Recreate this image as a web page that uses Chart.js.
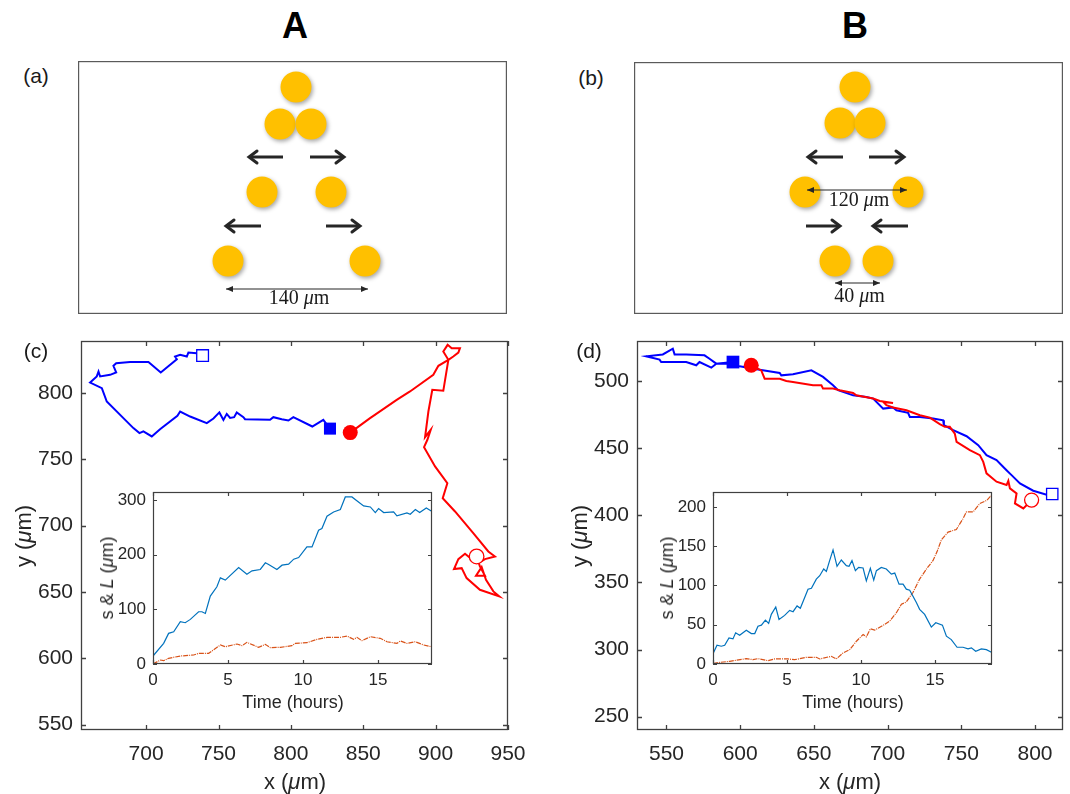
<!DOCTYPE html>
<html>
<head>
<meta charset="utf-8">
<script src="https://cdn.jsdelivr.net/npm/chart.js@4.4.0/dist/chart.umd.min.js"></script>
<style>
  body { margin: 0; background: #fff; }
  #fig { position: relative; width: 1070px; height: 794px; overflow: hidden;
         font-family: "Liberation Sans", Arial, sans-serif; color: #262626; }
  canvas { position: absolute; }
  .t { position: absolute; transform: translate(-50%, -50%); white-space: nowrap; line-height: 1; }
  .big { font-weight: bold; font-size: 36px; color: #000; }
  .tag { font-size: 21px; color: #1a1a1a; }
  .ax { font-size: 22px; }
  .ix { font-size: 18px; }
  .rot { transform: translate(-50%, -50%) rotate(-90deg); }
</style>
</head>
<body>
<div id="fig">
  <canvas id="pa" width="429" height="253" style="left:78px;top:61px"></canvas>
  <canvas id="pb" width="429" height="252" style="left:634px;top:62px"></canvas>
  <canvas id="pc" width="540" height="464" style="left:0px;top:330px"></canvas>
  <canvas id="pd" width="530" height="464" style="left:540px;top:330px"></canvas>
  <canvas id="ic" width="350" height="240" style="left:100px;top:480px"></canvas>
  <canvas id="id" width="350" height="240" style="left:660px;top:480px"></canvas>

  <div class="t big" style="left:295px;top:26px">A</div>
  <div class="t big" style="left:855px;top:26px">B</div>
  <div class="t tag" style="left:36px;top:75px">(a)</div>
  <div class="t tag" style="left:591px;top:77px">(b)</div>
  <div class="t tag" style="left:36px;top:350px">(c)</div>
  <div class="t tag" style="left:589px;top:350px">(d)</div>

  <div class="t ax" style="left:295px;top:782px">x (<i>&mu;</i>m)</div>
  <div class="t ax rot" style="left:24px;top:536px">y (<i>&mu;</i>m)</div>
  <div class="t ax" style="left:850px;top:782px">x (<i>&mu;</i>m)</div>
  <div class="t ax rot" style="left:580px;top:536px">y (<i>&mu;</i>m)</div>

  <div class="t ix" style="left:293px;top:702px">Time (hours)</div>
  <div class="t ix rot" style="left:107px;top:578px">s &amp; <i>L</i> (<i>&mu;</i>m)</div>
  <div class="t ix" style="left:853px;top:702px">Time (hours)</div>
  <div class="t ix rot" style="left:667px;top:578px">s &amp; <i>L</i> (<i>&mu;</i>m)</div>
</div>

<script>
// ---- schematic (a): cell centres, arrows, dimension line (um-like units)
const cellXA = [0, -16, 15, -34, 35, -68, 69];
const cellYA = [227, 190, 190, 122, 122, 53, 53];
const arrowsA = [[-13, 157, -47, 157], [14, 157, 48, 157], [-35, 88, -70, 88], [30, 88, 64, 88]];
const dimsA = [[-70, 25, 72, 25]];
const dimTextA = ['140'];

// ---- schematic (b)
const cellXB = [0, -15, 15, -50, 53, -20, 23];
const cellYB = [227, 191, 191, 122, 122, 53, 53];
const arrowsB = [[-12, 157, -47, 157], [14, 157, 49, 157], [-49, 88, -15, 88], [53, 88, 18, 88]];
const dimsB = [[-48, 124, 52, 124], [-20, 31, 25, 31]];
const dimTextB = ['120', '40'];

// ---- trajectories (c): first point = filled marker, last = open marker
const blueCx = [827, 822.4, 814.8, 801.7, 798.3, 793.7, 787.9, 785.6, 768.3, 767.2, 762.6, 760.8, 758.0, 755.7, 753.4, 750.6, 746.5, 741.9, 730.4, 723.5, 721.6, 709.6, 703.9, 698.1, 695.4, 691.2, 685.5, 672.8, 669.4, 661.3, 665.9, 667.1, 668.2, 675.1, 679.3, 677.4, 679.3, 688.9, 701.6, 710.1, 721.2, 720.0, 723.5, 728.1, 729.2, 735.0, 739];
const blueCy = [773, 779.6, 774.6, 781.6, 779.1, 780.1, 781.6, 779.6, 780.1, 781.6, 785.2, 781.6, 781.1, 784.1, 779.6, 785.2, 780.6, 777.1, 782.1, 785.9, 782.6, 772.6, 767.1, 770.9, 769.6, 773.4, 779.6, 793.4, 803.5, 807.7, 812.3, 816.0, 812.3, 813.5, 815.3, 820.3, 822.3, 823.1, 823.1, 815.3, 825.3, 827.3, 828.6, 827.3, 830.3, 829.8, 828];
const redCx = [841, 854.7, 857.0, 873.1, 882.3, 898.4, 901.9, 908.8, 905.3, 908.3, 911.1, 916.8, 915.7, 912.2, 908.8, 905.3, 897.7, 895.0, 892.7, 896.6, 894.3, 892.0, 899.6, 908.1, 904.9, 913.4, 926.0, 936.4, 941.0, 934.1, 929.5, 924.9, 920.3, 915.7, 912.7, 918.0, 921.4, 930.6, 944.0, 939.9, 934.8, 931.8, 927.9, 934.1, 930.6, 928.3];
const redCy = [770, 780.9, 782.6, 794.7, 801.0, 813.5, 820.3, 824.8, 831.1, 836.1, 833.6, 833.6, 830.3, 827.3, 824.8, 801.5, 802.2, 785.9, 766.6, 772.1, 764.6, 759.0, 744.5, 731.9, 720.6, 710.6, 694.3, 680.5, 676.7, 674.7, 671.7, 674.7, 678.7, 674.7, 667.2, 667.9, 660.4, 651.6, 646.6, 650.4, 659.2, 668.7, 662.2, 662.2, 669.2, 676.7];
const xTicksC = [700, 750, 800, 850, 900, 950];
const yTicksC = [550, 600, 650, 700, 750, 800];

// ---- trajectories (d)
const blueDx = [595.1, 583.8, 580.4, 572.4, 570.2, 563.4, 546.4, 545.3, 536.2, 547.5, 554.3, 555.5, 563.4, 575.8, 579.2, 583.8, 592.8, 599.6, 613.2, 626.8, 627.9, 635.8, 648.3, 656.2, 663.0, 666.4, 676.6, 685.6, 690.2, 697.0, 703.7, 706.0, 713.9, 715.1, 721.9, 730.9, 737.7, 738.2, 744.5, 753.6, 761.5, 767.1, 773.9, 780.7, 784.1, 789.8, 798.8, 809.0, 811.7];
const blueDy = [514.3, 513.1, 510.1, 514.3, 511.9, 514.3, 514.3, 516.1, 518.6, 520.0, 524.3, 520.0, 520.0, 519.3, 516.8, 513.1, 513.1, 511.1, 508.6, 506.2, 504.4, 505.2, 508.1, 503.2, 497.0, 493.3, 489.5, 488.3, 487.1, 479.6, 480.4, 478.4, 476.4, 473.4, 473.4, 472.2, 470.9, 467.2, 463.5, 459.0, 452.3, 444.9, 441.2, 433.7, 430.0, 423.8, 418.4, 415.1, 415.9];
const redDx = [607.5, 614.3, 616.6, 626.8, 631.3, 635.8, 649.4, 655.1, 656.2, 663.0, 667.5, 676.6, 678.8, 690.2, 694.7, 703.7, 697.0, 699.2, 703.7, 712.8, 721.9, 728.7, 735.4, 738.8, 742.2, 745.6, 746.8, 755.8, 762.6, 764.9, 767.1, 773.9, 780.7, 781.9, 783.0, 787.5, 786.4, 792.1, 797.7];
const redDy = [511.9, 508.1, 501.9, 501.9, 500.2, 499.5, 497.0, 497.0, 494.5, 494.5, 493.3, 491.3, 489.5, 487.1, 485.3, 483.8, 484.6, 482.1, 480.4, 478.4, 474.7, 472.9, 468.0, 466.0, 466.0, 461.0, 454.8, 448.6, 444.9, 439.9, 431.3, 425.1, 422.6, 425.8, 420.1, 416.4, 408.9, 405.2, 411.4];
const xTicksD = [550, 600, 650, 700, 750, 800];
const yTicksD = [250, 300, 350, 400, 450, 500];

// ---- insets: s & L against time (hours)
const tBlueC = [0, 0.71, 1.04, 1.38, 1.82, 2.15, 2.49, 3.04, 3.26, 3.49, 3.82, 4.26, 4.49, 4.82, 5.71, 6.26, 6.60, 7.15, 7.49, 7.71, 8.26, 8.60, 9.04, 9.38, 9.71, 10.26, 10.60, 11.04, 11.26, 11.60, 12.04, 12.49, 12.82, 13.26, 14.04, 14.49, 14.82, 15.04, 15.38, 16.04, 16.26, 16.93, 17.15, 17.49, 17.78, 18.22, 18.55];
const vBlueC = [14.6, 37.8, 56.1, 59.1, 77.4, 75.6, 81.7, 95.7, 95.7, 92.6, 124.3, 141.4, 157.8, 153.6, 176.7, 164.5, 170.6, 173.1, 185.3, 182.2, 173.1, 181.0, 182.8, 192.0, 195.0, 214.5, 214.5, 245.0, 248.0, 270.6, 278.5, 282.8, 305.9, 305.9, 289.5, 287.6, 277.3, 284.6, 277.3, 278.5, 271.2, 276.7, 274.3, 282.8, 277.3, 285.8, 280.3];
const tOrangeC = [0, 0.49, 0.71, 1.04, 1.82, 2.71, 3.04, 3.71, 4.49, 4.82, 5.60, 5.93, 6.26, 7.04, 7.49, 7.82, 8.49, 9.26, 9.49, 10.26, 10.93, 11.60, 12.49, 12.93, 13.38, 13.60, 13.93, 14.49, 15.15, 15.60, 16.26, 16.49, 16.93, 17.49, 18.04, 18.55];
const vOrangeC = [0, 7.3, 6.1, 10.4, 14.6, 16.5, 19.5, 19.5, 34.8, 31.7, 36.6, 33.5, 39.6, 30.5, 36.0, 29.9, 30.5, 33.5, 37.8, 39.0, 45.1, 48.8, 48.8, 51.2, 45.1, 48.8, 42.7, 50.0, 47.0, 40.8, 37.8, 42.1, 37.8, 40.8, 34.8, 31.7];
const tBlueD = [0, 0.27, 0.56, 0.79, 1.08, 1.35, 1.53, 1.80, 2.25, 2.59, 2.82, 3.04, 3.27, 3.54, 3.76, 3.94, 4.24, 4.46, 4.84, 5.18, 5.41, 5.68, 5.90, 6.42, 6.65, 6.98, 7.21, 7.48, 7.66, 7.88, 8.11, 8.38, 8.67, 9.01, 9.19, 9.39, 9.62, 9.84, 10.14, 10.36, 10.63, 10.86, 11.04, 11.37, 11.71, 12.05, 12.28, 12.57, 12.84, 13.06, 13.29, 13.74, 13.96, 14.30, 14.75, 15.05, 15.50, 15.77, 16.10, 16.49, 16.89, 17.23, 17.46, 17.75, 18.13, 18.47, 18.81];
const vBlueD = [13.2, 23.9, 22.6, 23.9, 33.3, 32.0, 39.7, 36.7, 43.1, 38.8, 38.8, 48.2, 49.5, 55.9, 51.7, 63.2, 72.6, 56.8, 61.9, 68.3, 66.6, 73.9, 70.9, 95.3, 96.5, 108.1, 112.4, 120.9, 117.9, 131.6, 145.3, 124.3, 132.4, 125.2, 124.3, 131.6, 118.8, 123.0, 122.2, 105.9, 121.8, 106.8, 118.8, 123.0, 120.9, 114.5, 115.8, 101.7, 101.7, 95.3, 94.0, 78.2, 69.6, 63.2, 47.0, 52.5, 49.5, 35.4, 31.1, 21.3, 21.3, 19.2, 20.5, 16.2, 19.2, 18.3, 14.9];
const tOrangeD = [0, 0.45, 1.13, 2.25, 2.70, 3.04, 3.72, 4.17, 5.07, 5.52, 6.31, 6.98, 7.21, 7.99, 8.33, 8.78, 9.24, 9.69, 10.14, 10.36, 10.63, 10.92, 11.49, 11.94, 12.39, 12.73, 13.06, 13.51, 13.96, 14.42, 14.86, 15.14, 15.43, 15.88, 16.44, 16.89, 17.12, 17.57, 18.02, 18.51, 18.81];
const vOrangeD = [0.4, 2.1, 3.4, 6.8, 5.5, 6.8, 4.2, 6.4, 6.4, 5.5, 8.5, 8.5, 6.4, 9.8, 6.4, 14.0, 18.3, 29.0, 37.6, 34.6, 44.8, 43.1, 49.1, 54.7, 65.3, 76.0, 79.0, 91.0, 108.1, 120.9, 131.6, 143.1, 158.1, 167.9, 171.3, 185.0, 193.6, 193.6, 204.2, 208.5, 214.9];
const xTicksIn = [0, 5, 10, 15];
const yTicksInC = [0, 100, 200, 300];
const yTicksInD = [0, 50, 100, 150, 200];

const FONT = '"Liberation Sans", Arial, sans-serif';
const INK = '#262626';
const xy = (xs, ys) => xs.map((x, i) => ({ x: x, y: ys[i] }));
const first = (xs, ys) => [{ x: xs[0], y: ys[0] }];
const last = (xs, ys) => [{ x: xs[xs.length - 1], y: ys[ys.length - 1] }];

// frame around the axes, with inward ticks like matlab
const boxPlugin = {
  id: 'box',
  beforeDraw(chart, args, opts) {
    if (!opts.fill) return;
    const a = chart.chartArea, ctx = chart.ctx;
    ctx.save();
    ctx.fillStyle = opts.fill;
    ctx.fillRect(a.left, a.top, a.right - a.left, a.bottom - a.top);
    ctx.restore();
  },
  afterDatasetsDraw(chart, args, opts) {
    if (!opts.color) return;
    const a = chart.chartArea, ctx = chart.ctx, s = chart.scales;
    ctx.save();
    ctx.strokeStyle = opts.color;
    ctx.lineWidth = opts.width || 1;
    ctx.strokeRect(a.left + 0.5, a.top + 0.5, a.right - a.left - 1, a.bottom - a.top - 1);
    if (opts.tick) {
      ctx.beginPath();
      s.x.ticks.forEach(t => {
        const p = Math.round(s.x.getPixelForValue(t.value)) + 0.5;
        ctx.moveTo(p, a.bottom); ctx.lineTo(p, a.bottom - opts.tick);
        ctx.moveTo(p, a.top); ctx.lineTo(p, a.top + opts.tick);
      });
      s.y.ticks.forEach(t => {
        const p = Math.round(s.y.getPixelForValue(t.value)) + 0.5;
        ctx.moveTo(a.left, p); ctx.lineTo(a.left + opts.tick, p);
        ctx.moveTo(a.right, p); ctx.lineTo(a.right - opts.tick, p);
      });
      ctx.stroke();
    }
    ctx.restore();
  }
};

// soft shadow under the cells
const shadowPlugin = {
  id: 'shadow',
  beforeDatasetDraw(chart, args) {
    if (!chart.data.datasets[args.index].shadow) return;
    const ctx = chart.ctx;
    ctx.save();
    ctx.shadowColor = 'rgba(0,0,0,0.35)';
    ctx.shadowBlur = 4;
    ctx.shadowOffsetX = 1.5;
    ctx.shadowOffsetY = 2;
  },
  afterDatasetDraw(chart, args) {
    if (chart.data.datasets[args.index].shadow) chart.ctx.restore();
  }
};

function drawHead(ctx, tip, from, len, half, filled) {
  const ang = Math.atan2(tip.y - from.y, tip.x - from.x);
  ctx.save();
  ctx.translate(tip.x, tip.y);
  ctx.rotate(ang);
  ctx.beginPath();
  ctx.moveTo(-len, -half);
  ctx.lineTo(0, 0);
  ctx.lineTo(-len, half);
  if (filled) { ctx.closePath(); ctx.fill(); } else { ctx.stroke(); }
  ctx.restore();
}

// arrow heads and "N um" labels on the schematic lines
const arrowPlugin = {
  id: 'arrows',
  afterDatasetsDraw(chart) {
    const ctx = chart.ctx;
    chart.data.datasets.forEach((ds, i) => {
      if (!ds.head) return;
      const pts = chart.getDatasetMeta(i).data;
      const a = pts[0], b = pts[pts.length - 1];
      ctx.save();
      ctx.strokeStyle = INK; ctx.fillStyle = INK;
      ctx.lineCap = 'round'; ctx.lineJoin = 'miter';
      if (ds.head === 'open') {
        ctx.lineWidth = 3;
        drawHead(ctx, b, a, 8, 6, false);
      } else {
        drawHead(ctx, b, a, 7, 3, true);
        drawHead(ctx, a, b, 7, 3, true);
      }
      if (ds.label) {
        const cx = (a.x + b.x) / 2 + 2, cy = a.y + ds.dy;
        const parts = [[ds.label + ' ', ''], ['\u03bc', 'italic '], ['m', '']];
        let w = 0;
        parts.forEach(p => { ctx.font = p[1] + '20px "Liberation Serif", serif'; w += ctx.measureText(p[0]).width; });
        let x = cx - w / 2;
        ctx.fillStyle = '#1a1a1a';
        ctx.textBaseline = 'middle';
        parts.forEach(p => {
          ctx.font = p[1] + '20px "Liberation Serif", serif';
          ctx.fillText(p[0], x, cy);
          x += ctx.measureText(p[0]).width;
        });
      }
      ctx.restore();
    });
  }
};

Chart.register(boxPlugin, shadowPlugin, arrowPlugin);

function schematic(id, cx, cy, arrows, dims, texts, dys, xr, yr) {
  const sets = [];
  arrows.forEach(a => sets.push({
    data: [{ x: a[0], y: a[1] }, { x: a[2], y: a[3] }], showLine: true,
    borderColor: INK, borderWidth: 3, pointRadius: 0, head: 'open'
  }));
  dims.forEach((d, i) => sets.push({
    data: [{ x: d[0], y: d[1] }, { x: d[2], y: d[3] }], showLine: true,
    borderColor: INK, borderWidth: 1.2, pointRadius: 0, head: 'both', label: texts[i], dy: dys[i]
  }));
  sets.push({ data: xy(cx, cy), pointRadius: 15.5, backgroundColor: '#FFC000', borderWidth: 0, shadow: true });
  return new Chart(document.getElementById(id), {
    type: 'scatter',
    data: { datasets: sets },
    options: {
      responsive: false, animation: false, devicePixelRatio: 1,
      layout: { padding: 0, autoPadding: false },
      plugins: { legend: { display: false }, tooltip: { enabled: false },
                 box: { color: '#5a5a5a', width: 1.4 } },
      scales: {
        x: { type: 'linear', display: false, min: xr[0], max: xr[1] },
        y: { type: 'linear', display: false, min: yr[0], max: yr[1] }
      }
    }
  });
}

schematic('pa', cellXA, cellYA, arrowsA, dimsA, dimTextA, [10], [-218, 211], [0, 253]);
schematic('pb', cellXB, cellYB, arrowsB, dimsB, dimTextB, [11, 14], [-221, 208], [0, 252]);

function axisOpts(min, max, ticks, size, pad, fit, horiz) {
  return {
    type: 'linear', min: min, max: max,
    afterBuildTicks: s => { s.ticks = ticks.map(v => ({ value: v })); },
    afterFit: s => {
      if (horiz) s.height = fit; else s.width = fit;
      // the chart area is fixed by layout padding, not by label overhang
      s.paddingTop = 0; s.paddingBottom = 0; s.paddingLeft = 0; s.paddingRight = 0;
    },
    grid: { display: false, drawTicks: false },
    border: { display: false },
    ticks: { color: INK, font: { family: FONT, size: size }, padding: pad, maxRotation: 0, autoSkip: false }
  };
}

function trajectory(id, bx, by, rx, ry, xr, yr, xt, yt, yw, padR, mk) {
  return new Chart(document.getElementById(id), {
    type: 'scatter',
    data: {
      datasets: [
        { data: last(bx, by), pointStyle: 'rect', pointRadius: mk.os, backgroundColor: '#fff', borderColor: '#0000ff', borderWidth: 1.3 },
        { data: first(bx, by), pointStyle: 'rect', pointRadius: mk.fs, backgroundColor: '#0000ff', borderWidth: 0 },
        { data: last(rx, ry), pointStyle: 'circle', pointRadius: mk.oc, backgroundColor: '#fff', borderColor: '#ff0000', borderWidth: 1.3 },
        { data: first(rx, ry), pointStyle: 'circle', pointRadius: mk.fc, backgroundColor: '#ff0000', borderWidth: 0 },
        { data: xy(rx, ry), showLine: true, borderColor: '#ff0000', borderWidth: 2, pointRadius: 0 },
        { data: xy(bx, by), showLine: true, borderColor: '#0000ff', borderWidth: 2, pointRadius: 0 }
      ]
    },
    options: {
      responsive: false, animation: false, devicePixelRatio: 1,
      layout: { padding: { left: 0, top: 11, right: padR, bottom: 0 }, autoPadding: false },
      plugins: { legend: { display: false }, tooltip: { enabled: false },
                 box: { color: '#404040', width: 1.3, tick: 5 } },
      scales: {
        x: axisOpts(xr[0], xr[1], xt, 21, 12, 64, true),
        y: axisOpts(yr[0], yr[1], yt, 21, 8, yw, false)
      }
    }
  });
}

trajectory('pc', blueCx, blueCy, redCx, redCy, [655, 950], [546, 839], xTicksC, yTicksC, 81, 32,
           { os: 8.3, fs: 8.5, oc: 7.3, fc: 7.5 });
trajectory('pd', blueDx, blueDy, redDx, redDy, [530, 819], [240, 530], xTicksD, yTicksD, 97, 7,
           { os: 8, fs: 9, oc: 7, fc: 7.5 });

function inset(id, tb, vb, to, vo, xmax, ymax, yt) {
  return new Chart(document.getElementById(id), {
    type: 'scatter',
    data: {
      datasets: [
        { data: xy(tb, vb), showLine: true, borderColor: '#0072BD', borderWidth: 1.2, pointRadius: 0 },
        { data: xy(to, vo), showLine: true, borderColor: '#D95319', borderWidth: 1.2, borderDash: [5, 1, 1, 1], pointRadius: 0 }
      ]
    },
    options: {
      responsive: false, animation: false, devicePixelRatio: 1,
      layout: { padding: { left: 0, top: 12, right: 18, bottom: 0 }, autoPadding: false },
      plugins: { legend: { display: false }, tooltip: { enabled: false },
                 box: { color: '#404040', width: 1.2, tick: 4, fill: '#fff' } },
      scales: {
        x: axisOpts(0, xmax, xTicksIn, 17, 6, 56, true),
        y: axisOpts(0, ymax, yt, 17, 7, 53, false)
      }
    }
  });
}

inset('ic', tBlueC, vBlueC, tOrangeC, vOrangeC, 18.6, 315, yTicksInC);
inset('id', tBlueD, vBlueD, tOrangeD, vOrangeD, 18.85, 219, yTicksInD);
</script>
</body>
</html>
